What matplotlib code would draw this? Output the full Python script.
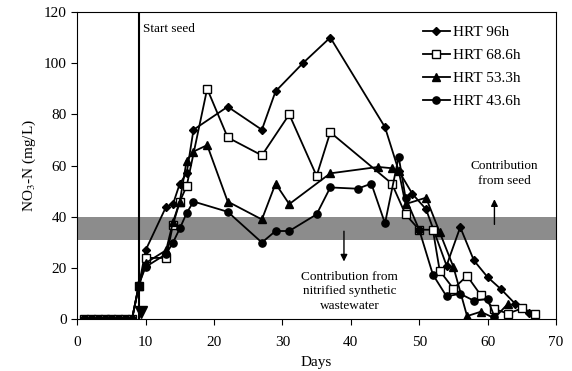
import matplotlib.pyplot as plt

plt.rcParams['font.family'] = ['Liberation Serif', 'DejaVu Serif']
plt.rcParams['mathtext.fontset'] = 'stix'

zero_days = [1, 2, 3, 4, 5, 6, 7, 8]

# HRT 96h
d96 = zero_days + [9, 10, 13, 14, 15, 16, 17, 22, 27, 29, 33, 37, 45, 47, 49, 51, 54, 56, 58, 60, 62, 64, 66]
v96 = [0] * 8 + [13, 27, 44, 45, 53, 57, 74, 83, 74, 89, 100, 110, 75, 58, 49, 43, 21, 36, 23, 16.5, 11.7, 6.2, 2.6]

# HRT 68.6h
d68 = zero_days + [9, 10, 13, 14, 15, 16, 19, 22, 27, 31, 35, 37, 46, 48, 50, 52, 53, 55, 57, 59, 61, 63, 65, 67]
v68 = [0] * 8 + [13, 24, 24, 37, 46, 52, 90, 71, 64, 80, 56, 73, 53, 41, 35, 35, 19, 12, 17, 9.5, 4, 2.3, 4.3, 2.3]

# HRT 53.3h
d53 = zero_days + [9, 10, 13, 14, 15, 16, 17, 19, 22, 27, 29, 31, 37, 44, 46, 47, 48, 51, 53, 55, 57, 59, 61, 63]
v53 = [0] * 8 + [13, 22, 27, 38, 46, 62, 65.5, 68, 46, 39, 53, 45, 57, 59.5, 59, 58, 45, 47.5, 34, 20.5, 1.3, 3, 0.5, 6.2]

# HRT 43.6h
d43 = zero_days + [9, 10, 13, 14, 15, 16, 17, 22, 27, 29, 31, 35, 37, 41, 43, 45, 47, 48, 50, 52, 54, 56, 58, 60, 61]
v43 = [0] * 8 + [13.5, 20.5, 25.5, 30, 35.5, 41.5, 46, 42, 30, 34.5, 34.5, 41, 51.5, 51, 53, 37.5, 63.5, 47.5, 35, 17.5, 9, 10, 7.3, 8, 1]

seed_day = 9
seed_band = (31, 40)

fig, ax = plt.subplots(figsize=(5.72, 3.71), dpi=100)
fig.subplots_adjust(left=0.135, right=0.972, bottom=0.139, top=0.968)

ax.axhspan(seed_band[0], seed_band[1], color='#8c8c8c', lw=0, zorder=0)
ax.axvline(seed_day, color='black', lw=1.5, zorder=1)

kw = dict(color='black', lw=1.3, zorder=3)
ax.plot(d96, v96, marker='D', ms=4, label='HRT 96h', **kw)
ax.plot(d68, v68, marker='s', ms=5.5, mfc='white', mec='black', label='HRT 68.6h', **kw)
ax.plot(d53, v53, marker='^', ms=5.5, label='HRT 53.3h', **kw)
ax.plot(d43, v43, marker='o', ms=5.2, label='HRT 43.6h', **kw)
ax.plot([9.3], [3], marker='v', ms=9, color='black', zorder=4)

ax.text(9.6, 113.5, 'Start seed', fontsize=9.5, va='center')
ax.text(62.5, 57, 'Contribution\nfrom seed', fontsize=9.5, ha='center', va='center', linespacing=1.3)
ax.annotate('', xy=(61, 48), xytext=(61, 36),
            arrowprops=dict(arrowstyle='-|>', color='black', lw=1, mutation_scale=10))
ax.text(39.8, 11, 'Contribution from\nnitrified synthetic\nwastewater', fontsize=9.5,
        ha='center', va='center', linespacing=1.3)
ax.annotate('', xy=(39, 21.5), xytext=(39, 35.5),
            arrowprops=dict(arrowstyle='-|>', color='black', lw=1, mutation_scale=10))

ax.set_xlim(0, 70)
ax.set_ylim(0, 120)
ax.set_xticks(range(0, 71, 10))
ax.set_yticks(range(0, 121, 20))
ax.tick_params(labelsize=11, direction='out', length=4)
ax.tick_params(axis='x', pad=8)
ax.set_xlabel('Days', fontsize=11, labelpad=5)
ax.set_ylabel('NO$_3$-N (mg/L)', fontsize=11)

ax.legend(loc='upper right', bbox_to_anchor=(0.955, 1.0), frameon=False, fontsize=11,
          handlelength=1.8, labelspacing=0.6, handletextpad=0.2, borderaxespad=0.5)

fig.savefig('out.png')
